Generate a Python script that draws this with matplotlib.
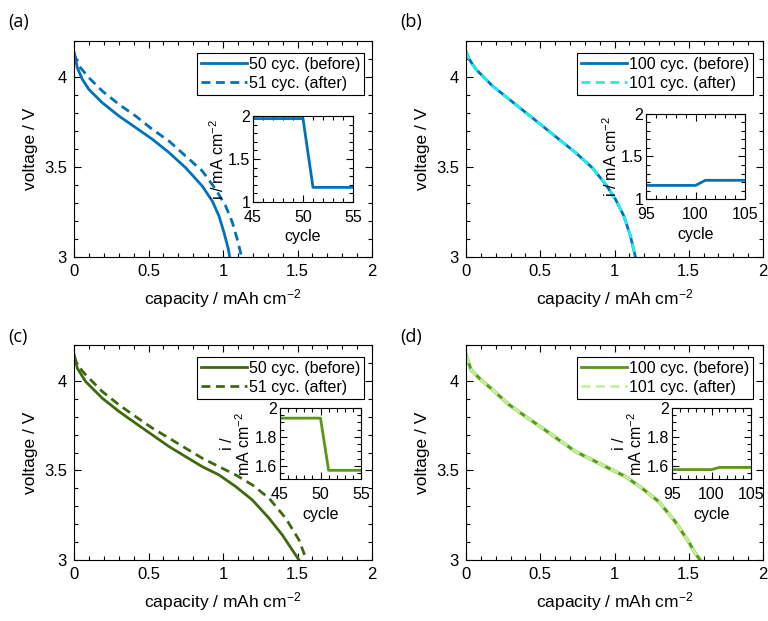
import matplotlib
matplotlib.use("Agg")
import matplotlib.pyplot as plt
from matplotlib.ticker import MultipleLocator

plt.rcParams["font.family"] = ["Liberation Sans", "DejaVu Sans"]
plt.rcParams["mathtext.fontset"] = "custom"
plt.rcParams["mathtext.rm"] = "Liberation Sans"
plt.rcParams["mathtext.it"] = "Liberation Sans:italic"

# discharge curves
cap_a50 = [0.0, 0.022, 0.056, 0.10, 0.19, 0.302, 0.414, 0.526, 0.638, 0.749,
           0.861, 0.928, 0.973, 1.007, 1.036, 1.045]
v_a50 = [4.14, 4.052, 3.987, 3.931, 3.857, 3.783, 3.719, 3.654, 3.580, 3.496,
         3.394, 3.311, 3.228, 3.135, 3.043, 3.0]
cap_a51 = [0.0, 0.034, 0.10, 0.19, 0.302, 0.414, 0.526, 0.638, 0.749, 0.861,
           0.951, 1.018, 1.063, 1.096, 1.125]
v_a51 = [4.13, 4.061, 3.996, 3.922, 3.848, 3.783, 3.709, 3.644, 3.561, 3.478,
         3.376, 3.283, 3.191, 3.098, 3.0]

cap_b = [0.0, 0.022, 0.067, 0.179, 0.291, 0.403, 0.515, 0.626, 0.738, 0.85,
         0.94, 1.007, 1.063, 1.107, 1.141]
v_b = [4.144, 4.098, 4.043, 3.95, 3.876, 3.802, 3.728, 3.654, 3.580, 3.496,
       3.404, 3.32, 3.228, 3.117, 3.0]

cap_c50 = [0.0, 0.022, 0.078, 0.19, 0.302, 0.414, 0.526, 0.638, 0.749, 0.861,
           0.973, 1.085, 1.197, 1.309, 1.398, 1.465, 1.51]
v_c50 = [4.15, 4.071, 3.996, 3.903, 3.829, 3.763, 3.698, 3.633, 3.577, 3.521,
         3.475, 3.41, 3.335, 3.233, 3.14, 3.056, 3.0]
cap_c51 = [0.0, 0.022, 0.078, 0.19, 0.302, 0.414, 0.526, 0.638, 0.749, 0.861,
           0.973, 1.085, 1.197, 1.309, 1.421, 1.51, 1.56]
v_c51 = [4.14, 4.089, 4.034, 3.94, 3.866, 3.80, 3.736, 3.68, 3.624, 3.568,
         3.521, 3.475, 3.419, 3.345, 3.233, 3.112, 3.0]

cap_d = [0.0, 0.034, 0.089, 0.179, 0.291, 0.403, 0.515, 0.626, 0.738, 0.85,
         0.962, 1.074, 1.186, 1.298, 1.409, 1.499, 1.544, 1.577]
v_d = [4.145, 4.061, 4.015, 3.95, 3.866, 3.80, 3.736, 3.67, 3.605, 3.559,
       3.512, 3.466, 3.40, 3.326, 3.214, 3.102, 3.037, 3.0]

# current density vs cycle (insets)
cyc_ac = [45, 50, 51, 55]
i_a = [1.97, 1.97, 1.17, 1.17]
i_c = [1.93, 1.93, 1.57, 1.57]
cyc_bd = [95, 100, 101, 105]
i_b = [1.16, 1.16, 1.22, 1.22]
i_d = [1.575, 1.575, 1.59, 1.59]

BLUE = "#0072bd"
CYAN = "#19f0f0"
DKGREEN = "#41680f"
GREEN = "#5a9618"
LTGREEN = "#c6f0a0"

W, H = 768, 621
fig = plt.figure(figsize=(W / 100, H / 100), dpi=100)


def px(l, t, r, b):
    return [l / W, (H - b) / H, (r - l) / W, (b - t) / H]


def style(ax, fs):
    ax.tick_params(which="both", direction="in", top=True, right=True,
                   labelsize=fs, width=0.8, pad=5)
    ax.tick_params(which="major", length=5)
    ax.tick_params(which="minor", length=3)
    for s in ax.spines.values():
        s.set_linewidth(0.8)


def main_axes(rect):
    ax = fig.add_axes(rect)
    ax.set_xlim(0, 2)
    ax.set_ylim(3, 4.2)
    ax.set_xticks([0, 0.5, 1, 1.5, 2])
    ax.set_xticklabels(["0", "0.5", "1", "1.5", "2"])
    ax.set_yticks([3, 3.5, 4])
    ax.set_yticklabels(["3", "3.5", "4"])
    ax.xaxis.set_minor_locator(MultipleLocator(0.1))
    ax.yaxis.set_minor_locator(MultipleLocator(0.1))
    style(ax, 12)
    ax.set_xlabel("capacity / mAh cm$^{-2}$", fontsize=12.5, labelpad=6)
    ax.set_ylabel("voltage / V", fontsize=12.5, labelpad=4)
    return ax


def inset(rect, xlim, ylim, yticks, yminor, ylabel):
    ax = fig.add_axes(rect)
    ax.set_xlim(*xlim)
    ax.set_ylim(*ylim)
    ax.set_xticks([xlim[0], xlim[0] + 5, xlim[1]])
    ax.xaxis.set_minor_locator(MultipleLocator(1))
    ax.set_yticks(yticks)
    ax.set_yticklabels([("%g" % t) for t in yticks])
    ax.yaxis.set_minor_locator(MultipleLocator(yminor))
    style(ax, 11.5)
    ax.tick_params(axis="y", which="both", pad=2)
    ax.tick_params(axis="x", which="both", pad=6)
    ax.set_xlabel("cycle", fontsize=11.5, labelpad=3)
    ax.set_ylabel(ylabel, fontsize=11.5, labelpad=1, linespacing=1.0)
    return ax


def legend(ax, anchor):
    lg = ax.legend(loc="upper right", bbox_to_anchor=anchor, fontsize=11.5,
                   handlelength=2.9, handletextpad=0.1, borderpad=0.25,
                   labelspacing=0.25, borderaxespad=0, fancybox=False,
                   framealpha=1)
    lg.get_frame().set_edgecolor("black")
    lg.get_frame().set_linewidth(0.8)


lw = 2.0
dash = (0, (3.2, 2.0))

# (a)
ax = main_axes(px(74, 41, 372, 257))
ax.plot(cap_a50, v_a50, color=BLUE, lw=lw, label="50 cyc. (before)")
ax.plot(cap_a51, v_a51, color=BLUE, lw=lw, ls=dash, label="51 cyc. (after)")
legend(ax, (0.973, 0.944))
ins = inset(px(253, 116, 353, 202), (45, 55), (1, 2), [1, 1.5, 2], 0.1,
            "i / mA cm$^{-2}$")
ins.plot(cyc_ac, i_a, color=BLUE, lw=lw)

# (b)
ax = main_axes(px(466, 41, 763, 257))
ax.plot(cap_b, v_b, color=BLUE, lw=lw, label="100 cyc. (before)")
ax.plot(cap_b, v_b, color=CYAN, lw=lw, ls=dash, label="101 cyc. (after)")
legend(ax, (0.967, 0.944))
ins = inset(px(646, 114, 745, 199), (95, 105), (1, 2), [1, 1.5, 2], 0.1,
            "i / mA cm$^{-2}$")
ins.plot(cyc_bd, i_b, color=BLUE, lw=lw)

# (c)
ax = main_axes(px(74, 345, 372, 560))
ax.plot(cap_c50, v_c50, color=DKGREEN, lw=lw, label="50 cyc. (before)")
ax.plot(cap_c51, v_c51, color=DKGREEN, lw=lw, ls=dash, label="51 cyc. (after)")
legend(ax, (0.973, 0.944))
ins = inset(px(280, 408, 361, 479), (45, 55), (1.51, 2), [1.6, 1.8, 2], 0.05,
            "i /\nmA cm$^{-2}$")
ins.plot(cyc_ac, i_c, color=GREEN, lw=lw)

# (d)
ax = main_axes(px(466, 345, 763, 560))
ax.plot(cap_d, v_d, color=LTGREEN, lw=lw + 1.0)
ax.plot(cap_d, v_d, color=GREEN, lw=lw, label="100 cyc. (before)")
ax.plot(cap_d, v_d, color=LTGREEN, lw=lw, ls=dash, label="101 cyc. (after)")
legend(ax, (0.967, 0.944))
ins = inset(px(672, 408, 751, 479), (95, 105), (1.51, 2), [1.6, 1.8, 2], 0.05,
            "i /\nmA cm$^{-2}$")
ins.plot(cyc_bd, i_d, color=GREEN, lw=lw)

for txt, x, y in [("(a)", 8, 22), ("(b)", 400, 22), ("(c)", 8, 337), ("(d)", 400, 337)]:
    fig.text(x / W, 1 - y / H, txt, fontsize=13, va="center", ha="left",
             family=["Open Sans", "DejaVu Sans"])

fig.savefig("out.png", dpi=100)
